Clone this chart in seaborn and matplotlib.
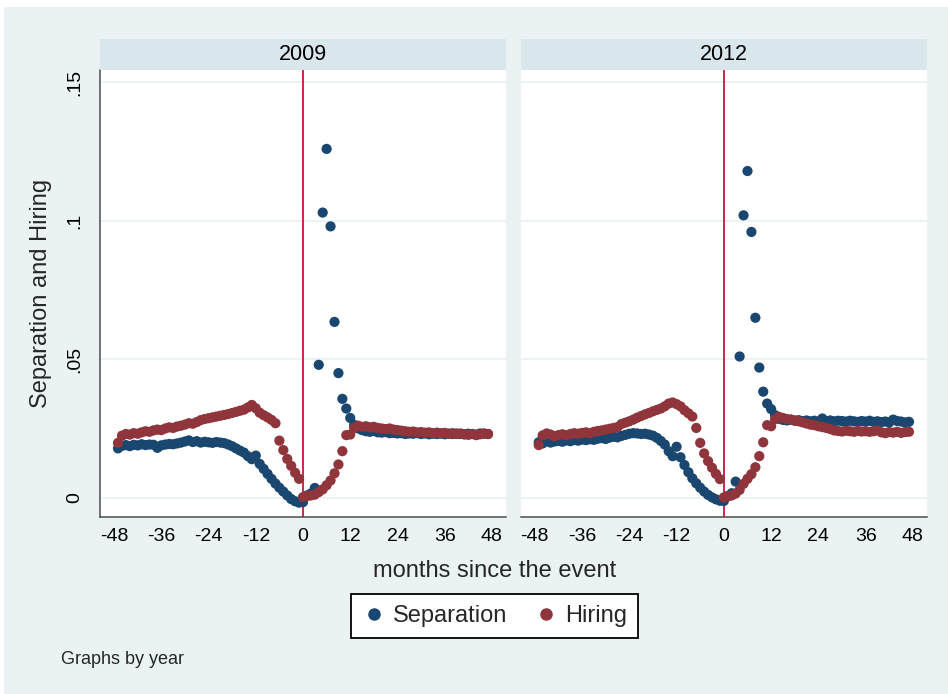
import numpy as np
import pandas as pd
import matplotlib
matplotlib.use("Agg")
import matplotlib.pyplot as plt
from matplotlib.patches import Rectangle
from matplotlib.lines import Line2D
import seaborn as sns

# ---- data -----------------------------------------------------------------
months = list(range(-47, 48))
years = ["2009", "2012"]
series_names = ["Separation", "Hiring"]

sep_2009 = [
    .0178, .0187, .0190, .0186, .0191, .0189, .0193, .0190, .0192, .0191,
    .0180, .0189, .0192, .0194, .0193, .0196, .0199, .0203, .0207, .0201,
    .0204, .0199, .0202, .0200, .0198, .0201, .0199, .0197, .0192, .0186,
    .0178, .0170, .0163, .0150, .0139, .0152, .0122, .0104, .0086, .0068,
    .0051, .0036, .0022, .0008, -.0005, -.0013, -.0018,
    -.0016,
    .0008, .0015, .0035, .048, .103, .126, .098, .0635, .045, .0357,
    .0322, .0288, .0263, .0250, .0244, .0240, .0238, .0241, .0236, .0235,
    .0237, .0233, .0234, .0232, .0233, .0230, .0232, .0231, .0233, .0230,
    .0232, .0229, .0231, .0230, .0232, .0229, .0231, .0230, .0232, .0230,
    .0229, .0231, .0230, .0228, .0232, .0231, .0230,
]
hire_2009 = [
    .0198, .0224, .0230, .0228, .0233, .0231, .0236, .0240, .0238, .0243,
    .0246, .0244, .0250, .0254, .0252, .0257, .0260, .0264, .0269, .0267,
    .0273, .0280, .0284, .0287, .0290, .0293, .0296, .0299, .0302, .0306,
    .0310, .0314, .0318, .0326, .0335, .0323, .0307, .0298, .0290, .0281,
    .0269, .0206, .0172, .0140, .0115, .0090, .0068,
    .0002,
    .0006, .0008, .0011, .0020, .0030, .0045, .0062, .0088, .0120, .0168,
    .0226, .0228, .0252, .0260, .0256, .0258, .0254, .0256, .0252, .0250,
    .0248, .0250, .0246, .0244, .0242, .0240, .0238, .0239, .0236, .0237,
    .0235, .0236, .0233, .0235, .0232, .0234, .0231, .0233, .0230, .0232,
    .0229, .0227, .0230, .0226, .0229, .0232, .0230,
]
sep_2012 = [
    .0200, .0196, .0205, .0199, .0203, .0205, .0202, .0207, .0204, .0208,
    .0206, .0210, .0208, .0211, .0209, .0213, .0215, .0212, .0217, .0220,
    .0218, .0223, .0227, .0231, .0233, .0232, .0230, .0231, .0228, .0224,
    .0216, .0205, .0192, .0168, .0150, .0184, .0146, .0118, .0092, .0070,
    .0052, .0036, .0022, .0010, .0001, -.0006, -.0011,
    -.0012,
    .0006, .0016, .0058, .051, .102, .118, .096, .065, .047, .0383,
    .034, .032, .0298, .0285, .0281, .0279, .0282, .0278, .0280, .0277,
    .0279, .0276, .0278, .0275, .0286, .0277, .0279, .0276, .0278, .0277,
    .0275, .0278, .0276, .0274, .0277, .0275, .0278, .0274, .0276, .0273,
    .0275, .0272, .0282, .0277, .0275, .0272, .0274,
]
hire_2012 = [
    .0190, .0225, .0232, .0228, .0222, .0226, .0229, .0226, .0230, .0233,
    .0231, .0234, .0236, .0233, .0238, .0241, .0243, .0246, .0249, .0252,
    .0255, .0266, .0271, .0276, .0282, .0289, .0295, .0301, .0306, .0312,
    .0317, .0322, .0330, .0340, .0344, .0338, .0330, .0316, .0305, .0293,
    .0252, .0198, .0160, .0132, .0108, .0086, .0067,
    .0001,
    .0005, .0008, .0015, .0028, .0050, .0068, .0085, .0110, .0150, .0200,
    .0262, .0258, .0283, .0292, .0288, .0284, .0282, .0279, .0276, .0272,
    .0268, .0264, .0262, .0258, .0255, .0252, .0248, .0243, .0241, .0239,
    .0242, .0240, .0238, .0241, .0239, .0240, .0238, .0240, .0243, .0236,
    .0233, .0237, .0235, .0238, .0234, .0237, .0238,
]

x_ticks = [-48, -36, -24, -12, 0, 12, 24, 36, 48]
y_ticks = [0, 0.05, 0.10, 0.15]
y_tick_labels = ["0", ".05", ".1", ".15"]

values = {
    ("2009", "Separation"): sep_2009,
    ("2009", "Hiring"): hire_2009,
    ("2012", "Separation"): sep_2012,
    ("2012", "Hiring"): hire_2012,
}
frames = []
for (yr, name), vals in values.items():
    frames.append(pd.DataFrame({"year": yr, "series": name,
                                "month": months, "value": vals}))
df = pd.concat(frames, ignore_index=True)

# ---- style ----------------------------------------------------------------
sns.set_style("white")
plt.rcParams["font.family"] = ["Liberation Sans", "DejaVu Sans"]

BG = "#EAF2F3"
STRIP = "#D9E6EB"
AXIS = "#4D4D4D"
palette = {"Separation": "#1A476F", "Hiring": "#90353B"}

W, H = 948, 694
fig = plt.figure(figsize=(W / 100, H / 100), dpi=100, facecolor=BG)

# white margins along the top and left edges
fig.add_artist(Rectangle((0, 1 - 7 / H), 1, 7 / H, transform=fig.transFigure,
                         facecolor="white", edgecolor="none", zorder=0))
fig.add_artist(Rectangle((0, 0), 4 / W, 1, transform=fig.transFigure,
                         facecolor="white", edgecolor="none", zorder=0))


def px_rect(x0, y0, x1, y1):
    return [x0 / W, 1 - y1 / H, (x1 - x0) / W, (y1 - y0) / H]


panel_px = {"2009": (100.3, 505.7), "2012": (521.0, 926.7)}
top_px, bottom_px = 70.0, 516.5

for i, yr in enumerate(years):
    x0, x1 = panel_px[yr]
    ax = fig.add_axes(px_rect(x0, top_px, x1, bottom_px))
    ax.set_facecolor("white")
    ax.axvline(0, color="#C8163E", lw=1.3, zorder=1.5)
    sns.scatterplot(data=df[df["year"] == yr], x="month", y="value",
                    hue="series", hue_order=series_names, palette=palette,
                    s=54, linewidth=0, alpha=1, legend=False, ax=ax, zorder=3)
    ax.set_xlim(-51.5, 51.5)
    ax.set_ylim(-0.0068, 0.1545)
    ax.set_xticks(x_ticks)
    ax.set_xticklabels([str(t) for t in x_ticks])
    ax.set_yticks(y_ticks)
    ax.yaxis.grid(True, color=BG, lw=1.3)
    ax.xaxis.grid(False)
    ax.set_axisbelow(True)
    ax.set_xlabel("")
    ax.set_ylabel("")
    for side in ("top", "right"):
        ax.spines[side].set_visible(False)
    ax.spines["bottom"].set_color(AXIS)
    ax.spines["bottom"].set_linewidth(1.1)
    ax.tick_params(axis="x", length=5.5, width=1.0, color=AXIS,
                   labelsize=14, pad=3, labelcolor="black")
    if i == 0:
        ax.spines["left"].set_color(AXIS)
        ax.spines["left"].set_linewidth(1.1)
        ax.set_yticklabels(y_tick_labels, rotation=90, va="center")
        ax.tick_params(axis="y", length=5.5, width=1.0, color=AXIS,
                       labelsize=14, pad=7, labelcolor="black")
    else:
        ax.spines["left"].set_visible(False)
        ax.tick_params(axis="y", left=False, labelleft=False)

    # panel header strip
    fig.add_artist(Rectangle((x0 / W, 1 - top_px / H), (x1 - x0) / W,
                             31 / H, transform=fig.transFigure,
                             facecolor=STRIP, edgecolor="none", zorder=1))
    fig.text((x0 + x1) / 2 / W, 1 - 54.5 / H, yr, ha="center", va="center",
             fontsize=15.5, color="black")

# axis titles
fig.text(41 / W, 1 - 293 / H, "Separation and Hiring", rotation=90,
         ha="center", va="center", fontsize=17)
fig.text(495 / W, 1 - 571 / H, "months since the event",
         ha="center", va="center", fontsize=17)

# legend
handles = [Line2D([], [], ls="none", marker="o", markersize=9,
                  markerfacecolor=palette[n], markeredgewidth=0)
           for n in series_names]
leg = fig.legend(handles, series_names, loc="center",
                 bbox_to_anchor=(494.5 / W, 1 - 616 / H), ncol=2,
                 frameon=True, fancybox=False, framealpha=1,
                 edgecolor="black", fontsize=17, handletextpad=0.3,
                 columnspacing=1.15, borderpad=0.45, handlelength=1.0)
leg.get_frame().set_linewidth(1.3)

fig.text(61 / W, 1 - 659 / H, "Graphs by year", ha="left", va="center",
         fontsize=13)

fig.savefig("out.png", dpi=100, facecolor=BG)
